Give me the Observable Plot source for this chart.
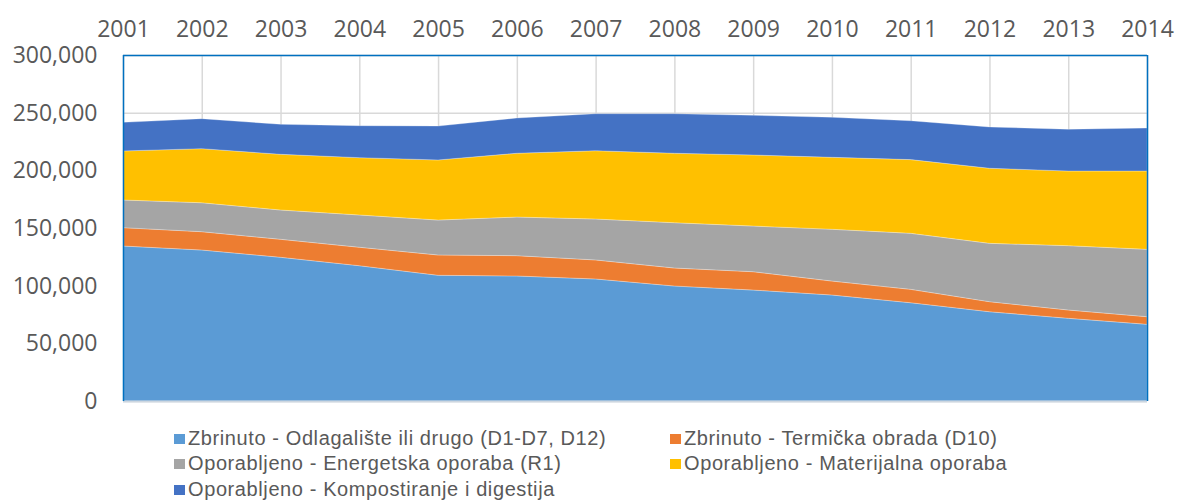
<!DOCTYPE html>
<html>
<head>
<meta charset="utf-8">
<script src="https://cdn.jsdelivr.net/npm/d3@7"></script>
<script src="https://cdn.jsdelivr.net/npm/@observablehq/plot@0.6"></script>
<style>
  body { margin: 0; background: #fff; }
  #wrap { position: relative; width: 1178px; height: 501px; overflow: hidden; }
  #legend { position: absolute; left: 0; top: 0; width: 1178px; height: 501px; pointer-events: none; }
  .item { position: absolute; font-family: "Liberation Sans", Arial, sans-serif; font-size: 20px; letter-spacing: 0.6px; color: #595959; white-space: nowrap; line-height: 20px; }
  .sw { display: inline-block; width: 11px; height: 10px; margin-right: 3px; vertical-align: 1px; }
</style>
</head>
<body>
<div id="wrap"><div id="chart"></div><div id="legend"></div></div>
<script>
const years = [2001,2002,2003,2004,2005,2006,2007,2008,2009,2010,2011,2012,2013,2014];
const seriesNames = [
  "Zbrinuto - Odlagalište ili drugo (D1-D7, D12)",
  "Zbrinuto - Termička obrada (D10)",
  "Oporabljeno - Energetska oporaba (R1)",
  "Oporabljeno - Materijalna oporaba",
  "Oporabljeno - Kompostiranje i digestija"
];
const colors = ["#5B9BD5", "#ED7D31", "#A5A5A5", "#FFC000", "#4472C4"];
const odlagaliste = [134400,130900,124600,117300,109000,108400,105800,99700,96200,91900,85200,77400,71700,66500];
const termicka    = [15900,15900,15600,16000,17600,17600,16500,15600,15900,12100,11600,8700,7200,6600];
const energetska  = [24000,25100,25400,28000,30300,33500,35500,39300,39600,44900,48600,50600,55800,58400];
const materijalna = [42500,46900,48300,49700,52100,55300,59200,60200,61600,62400,63900,65100,64700,67900];
const kompost     = [24800,26000,26000,27700,29400,30600,32100,34300,34400,34700,33700,35800,36200,37300];
const yTicks = [0,50000,100000,150000,200000,250000,300000];

const seriesValues = [odlagaliste, termicka, energetska, materijalna, kompost];
const data = [];
years.forEach((yr, i) => {
  seriesNames.forEach((s, j) => data.push({year: yr, series: s, value: seriesValues[j][i]}));
});

const chart = Plot.plot({
  width: 1178,
  height: 415,
  marginLeft: 123,
  marginRight: 31,
  marginTop: 55,
  marginBottom: 14,
  style: {fontFamily: "'Open Sans', sans-serif", fontSize: "23px", color: "#595959", background: "white"},
  x: {domain: [2001, 2014], axis: "top", ticks: years, tickFormat: d => String(d), tickSize: 0, tickPadding: 19, label: null},
  y: {domain: [0, 300000], ticks: yTicks, tickFormat: d3.format(","), tickSize: 0, tickPadding: 26, label: null},
  color: {domain: seriesNames, range: colors},
  marks: [
    Plot.gridX(years, {stroke: "#D9D9D9", strokeOpacity: 1, strokeWidth: 1.5}),
    Plot.gridY(yTicks, {stroke: "#D9D9D9", strokeOpacity: 1, strokeWidth: 1.5}),
    Plot.areaY(data, Plot.stackY({x: "year", y: "value", z: "series", fill: "series", order: seriesNames, stroke: "white", strokeOpacity: 0.35, strokeWidth: 0.8})),
    Plot.ruleY([0], {stroke: "#CCD6E0", strokeWidth: 2}),
    Plot.ruleY([300000], {stroke: "#0070C0", strokeWidth: 1.5}),
    Plot.ruleX([2001, 2014], {stroke: "#0070C0", strokeWidth: 1.5})
  ]
});
document.getElementById("chart").appendChild(chart);

const legendPos = [[174, 428], [670, 428], [174, 453], [670, 453], [174, 479]];
const legend = document.getElementById("legend");
seriesNames.forEach((s, i) => {
  const d = document.createElement("div");
  d.className = "item";
  d.style.left = legendPos[i][0] + "px";
  d.style.top = legendPos[i][1] + "px";
  d.innerHTML = `<span class="sw" style="background:${colors[i]}"></span>${s}`;
  legend.appendChild(d);
});
</script>
</body>
</html>
